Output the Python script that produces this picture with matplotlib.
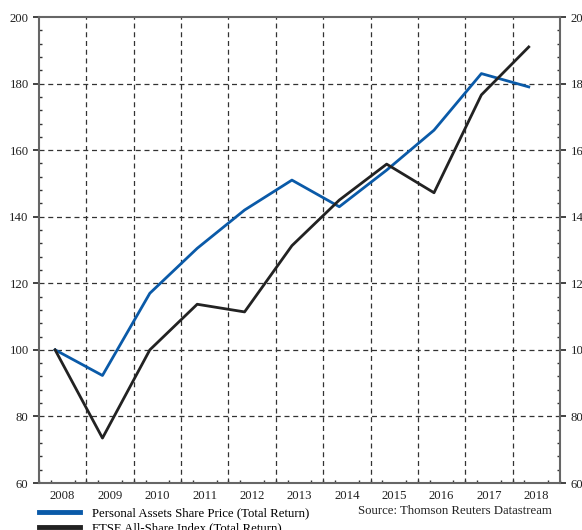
import matplotlib
matplotlib.use("Agg")
import matplotlib.pyplot as plt
from matplotlib.lines import Line2D
import numpy as np

years = ["2008", "2009", "2010", "2011", "2012", "2013", "2014", "2015", "2016", "2017", "2018"]
personal_assets = [100, 92.3, 117, 130.5, 142, 151, 143, 154, 166, 183, 179]
ftse_all_share = [100, 73.5, 100, 113.7, 111.4, 131.3, 145, 155.8, 147.2, 176.6, 191]

plt.rcParams['font.family'] = ['Liberation Serif', 'DejaVu Serif']

fig = plt.figure(figsize=(5.82, 5.30), dpi=100)
ax = fig.add_axes([39/582, 1-483/530, (560-39)/582, (483-17)/530])

xpos = np.arange(len(years)) + 0.34
ax.plot(xpos, personal_assets, color="#0a5aa8", lw=2.0, zorder=3)
ax.plot(xpos, ftse_all_share, color="#222222", lw=2.0, zorder=3)

ax.set_xlim(0, len(years))
ax.set_ylim(60, 200)

ax.set_xticks(np.arange(len(years)) + 0.5)
ax.set_xticklabels(years)
ax.set_xticks(np.arange(0, len(years) + 0.01, 0.25), minor=True)
ax.set_yticks(np.arange(60, 201, 20))
ax.set_yticks(np.arange(60, 201, 4), minor=True)

for x in range(1, len(years)):
    ax.axvline(x, color="#333333", lw=0.9, ls=(0, (4, 3)), zorder=1)
for y in range(80, 200, 20):
    ax.axhline(y, color="#333333", lw=0.9, ls=(0, (4, 3)), zorder=1)

ax.tick_params(axis="x", which="major", length=0, labelsize=9.2, pad=5, colors="#222222")
ax.tick_params(axis="x", which="minor", direction="in", length=2.5, width=1, color="#333333")
ax.tick_params(axis="y", which="major", direction="out", length=4, width=1.2, labelsize=9.2,
               left=True, right=True, labelleft=True, labelright=True, colors="#222222")
ax.tick_params(axis="y", which="minor", direction="in", length=2.5, width=1,
               left=True, right=True, color="#333333")

for s in ax.spines.values():
    s.set_color("#666666")
    s.set_linewidth(1.5)

handles = [Line2D([0], [0], color="#0a5aa8", lw=3.5),
           Line2D([0], [0], color="#222222", lw=3.5)]
fig.legend(handles, ["Personal Assets Share Price (Total Return)", "FTSE All-Share Index (Total Return)"],
           loc="upper left", bbox_to_anchor=(34/582, 1-502/530), frameon=False,
           fontsize=9.2, handlelength=3.2, handletextpad=0.9, labelspacing=0.25, borderaxespad=0)
fig.text(552/582, 1-511/530, "Source: Thomson Reuters Datastream", ha="right", va="center", fontsize=9.2,
         color="#222222")

fig.savefig("out.png", dpi=100)
